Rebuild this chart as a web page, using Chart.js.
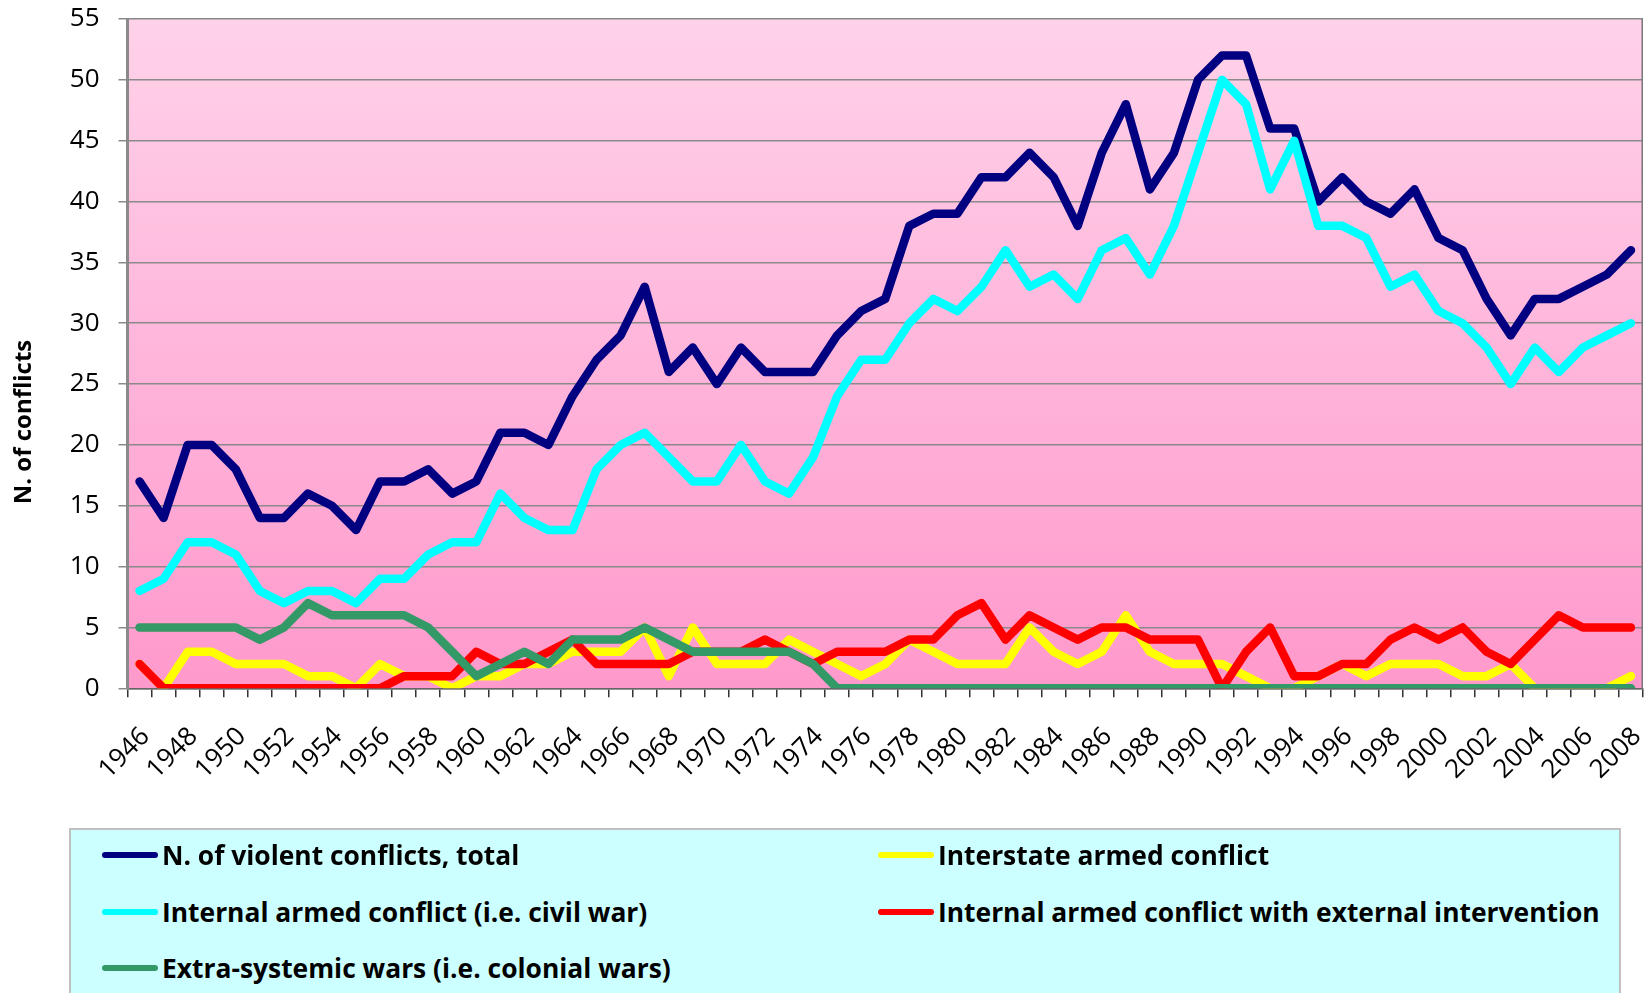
<!DOCTYPE html>
<html>
<head>
<meta charset="utf-8">
<script src="https://cdn.jsdelivr.net/npm/chart.js@4.4.1/dist/chart.umd.min.js"></script>
<style>
    body { margin: 0; background: #fff; font-family: 'Open Sans', sans-serif; }
    #wrap { position: relative; width: 1644px; height: 993px; overflow: hidden; }
    #chart { position: absolute; left: 0; top: 0; }
    #legend {
        position: absolute; left: 69px; top: 828px; width: 1552px; height: 200px;
        background: #ccffff; border: 2px solid #c0c0c0; box-sizing: border-box;
        display: grid; grid-template-columns: 776px 1fr; grid-auto-rows: 56.6px;
        padding-left: 31px; padding-top: 0;
    }
    .item { position: relative; top: -3px; display: flex; align-items: center; font-weight: bold; font-size: 26.4px; color: #000; white-space: nowrap; }
    .swatch { display: inline-block; width: 56px; height: 6px; border-radius: 3px; margin-right: 4px; }
</style>
</head>
<body>
<div id="wrap">
    <canvas id="chart" width="1644" height="828"></canvas>
    <div id="legend"></div>
</div>
<script>
var years = [
    '1946','1947','1948','1949','1950','1951','1952','1953','1954','1955',
    '1956','1957','1958','1959','1960','1961','1962','1963','1964','1965',
    '1966','1967','1968','1969','1970','1971','1972','1973','1974','1975',
    '1976','1977','1978','1979','1980','1981','1982','1983','1984','1985',
    '1986','1987','1988','1989','1990','1991','1992','1993','1994','1995',
    '1996','1997','1998','1999','2000','2001','2002','2003','2004','2005',
    '2006','2007','2008'
];

var totalConflicts = [
    17, 14, 20, 20, 18, 14, 14, 16, 15, 13,
    17, 17, 18, 16, 17, 21, 21, 20, 24, 27,
    29, 33, 26, 28, 25, 28, 26, 26, 26, 29,
    31, 32, 38, 39, 39, 42, 42, 44, 42, 38,
    44, 48, 41, 44, 50, 52, 52, 46, 46, 40,
    42, 40, 39, 41, 37, 36, 32, 29, 32, 32,
    33, 34, 36
];

var interstate = [
    2, 0, 3, 3, 2, 2, 2, 1, 1, 0,
    2, 1, 1, 0, 1, 1, 2, 2, 3, 3,
    3, 5, 1, 5, 2, 2, 2, 4, 3, 2,
    1, 2, 4, 3, 2, 2, 2, 5, 3, 2,
    3, 6, 3, 2, 2, 2, 1, 0, 0, 1,
    2, 1, 2, 2, 2, 1, 1, 2, 0, 0,
    0, 0, 1
];

var internalConflicts = [
    8, 9, 12, 12, 11, 8, 7, 8, 8, 7,
    9, 9, 11, 12, 12, 16, 14, 13, 13, 18,
    20, 21, 19, 17, 17, 20, 17, 16, 19, 24,
    27, 27, 30, 32, 31, 33, 36, 33, 34, 32,
    36, 37, 34, 38, 44, 50, 48, 41, 45, 38,
    38, 37, 33, 34, 31, 30, 28, 25, 28, 26,
    28, 29, 30
];

var withIntervention = [
    2, 0, 0, 0, 0, 0, 0, 0, 0, 0,
    0, 1, 1, 1, 3, 2, 2, 3, 4, 2,
    2, 2, 2, 3, 3, 3, 4, 3, 2, 3,
    3, 3, 4, 4, 6, 7, 4, 6, 5, 4,
    5, 5, 4, 4, 4, 0, 3, 5, 1, 1,
    2, 2, 4, 5, 4, 5, 3, 2, 4, 6,
    5, 5, 5
];

var extraSystemic = [
    5, 5, 5, 5, 5, 4, 5, 7, 6, 6,
    6, 6, 5, 3, 1, 2, 3, 2, 4, 4,
    4, 5, 4, 3, 3, 3, 3, 3, 2, 0,
    0, 0, 0, 0, 0, 0, 0, 0, 0, 0,
    0, 0, 0, 0, 0, 0, 0, 0, 0, 0,
    0, 0, 0, 0, 0, 0, 0, 0, 0, 0,
    0, 0, 0
];

var seriesNames = [
    'N. of violent conflicts, total',
    'Interstate armed conflict',
    'Internal armed conflict (i.e. civil war)',
    'Internal armed conflict with external intervention',
    'Extra-systemic wars (i.e. colonial wars)'
];
var seriesColors = ['#000080', '#ffff00', '#00ffff', '#ff0000', '#339966'];
var seriesData = [totalConflicts, interstate, internalConflicts, withIntervention, extraSystemic];

Chart.defaults.font.family = "'Open Sans', sans-serif";
Chart.defaults.color = '#000';

// pink plot background, right border and the rotated y title
var plotDecor = {
    id: 'plotDecor',
    beforeDraw: function(chart) {
        var a = chart.chartArea, ctx = chart.ctx;
        var g = ctx.createLinearGradient(0, a.top, 0, a.bottom);
        g.addColorStop(0, '#ffd2e9');
        g.addColorStop(1, '#ff99cc');
        ctx.save();
        ctx.fillStyle = g;
        ctx.fillRect(a.left, a.top, a.right - a.left, a.bottom - a.top);
        ctx.restore();
    },
    afterDraw: function(chart) {
        var a = chart.chartArea, ctx = chart.ctx;
        ctx.save();
        ctx.strokeStyle = '#777';
        ctx.lineWidth = 1.5;
        ctx.beginPath();
        ctx.moveTo(a.right - 0.75, a.top);
        ctx.lineTo(a.right - 0.75, a.bottom);
        ctx.stroke();
        ctx.translate(24, 422);
        ctx.rotate(-Math.PI / 2);
        ctx.font = "bold 24px 'Open Sans'";
        ctx.fillStyle = '#000';
        ctx.textAlign = 'center';
        ctx.textBaseline = 'middle';
        ctx.fillText('N. of conflicts', 0, 0);
        ctx.restore();
    }
};

function noPadding(scale) {
    scale.paddingTop = 0;
    scale.paddingBottom = 0;
    scale.paddingLeft = 0;
    scale.paddingRight = 0;
}

document.addEventListener('DOMContentLoaded', function() {
    var ctx = document.getElementById('chart').getContext('2d');
    var datasets = seriesNames.map(function(name, i) {
        return {
            label: name,
            data: seriesData[i],
            borderColor: seriesColors[i],
            backgroundColor: seriesColors[i],
            borderWidth: 8.5,
            borderCapStyle: 'round',
            borderJoinStyle: 'round',
            pointRadius: 0,
            pointHoverRadius: 0,
            tension: 0,
            fill: false,
            order: seriesNames.length - 1 - i // later series on top, like the original
        };
    });

    var chart = new Chart(ctx, {
        type: 'line',
        data: { labels: years, datasets: datasets },
        plugins: [plotDecor],
        options: {
            responsive: false,
            animation: false,
            devicePixelRatio: 1,
            layout: { autoPadding: false, padding: { top: 19, right: 1, left: 0, bottom: 0 } },
            plugins: {
                legend: { display: false },
                tooltip: { enabled: false }
            },
            scales: {
                x: {
                    offset: true,
                    grid: {
                        offset: true,
                        drawOnChartArea: false,
                        drawTicks: true,
                        tickLength: 9,
                        tickColor: '#333',
                        lineWidth: 1.5
                    },
                    border: { display: true, color: '#666', width: 1.5 },
                    ticks: {
                        autoSkip: false,
                        minRotation: 45,
                        maxRotation: 45,
                        padding: 24,
                        labelOffset: 6,
                        font: { size: 26 },
                        color: '#000',
                        callback: function(value, index) {
                            return index % 2 === 0 ? this.getLabelForValue(value) : '';
                        }
                    },
                    afterFit: function(scale) { scale.height = 139.7; noPadding(scale); }
                },
                y: {
                    min: 0,
                    max: 55,
                    grid: {
                        color: '#8a8a8a',
                        lineWidth: 1.5,
                        drawTicks: true,
                        tickLength: 9,
                        tickColor: '#8a8a8a'
                    },
                    border: { display: true, color: '#8a8a8a', width: 3 },
                    ticks: {
                        stepSize: 5,
                        padding: 19,
                        font: { size: 26 },
                        color: '#000'
                    },
                    afterFit: function(scale) { scale.width = 127.5; noPadding(scale); }
                }
            }
        }
    });

    // legend laid out in two columns like the original
    var legend = document.getElementById('legend');
    chart.data.datasets.forEach(function(ds) {
        var item = document.createElement('div');
        item.className = 'item';
        var sw = document.createElement('span');
        sw.className = 'swatch';
        sw.style.background = ds.borderColor;
        item.appendChild(sw);
        item.appendChild(document.createTextNode(ds.label));
        legend.appendChild(item);
    });
});
</script>
</body>
</html>
